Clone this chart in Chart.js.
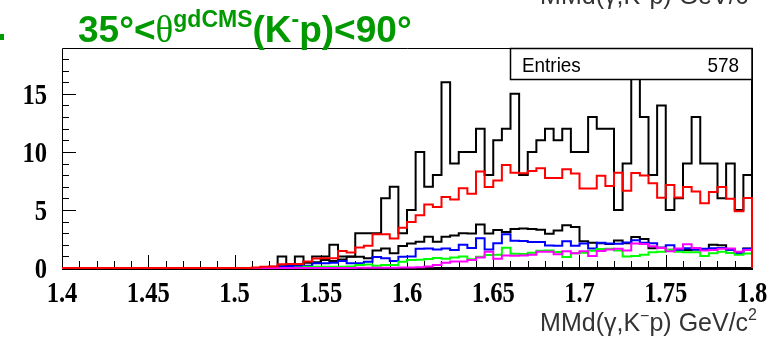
<!DOCTYPE html>
<html>
<head>
<meta charset="utf-8">
<script src="https://cdn.jsdelivr.net/npm/chart.js@4.4.1/dist/chart.umd.min.js"></script>
<style>
  html, body { margin: 0; padding: 0; background: #fff; }
  #wrap { width: 782px; height: 338px; position: relative; }
</style>
</head>
<body>
<div id="wrap"><canvas id="c" width="782" height="338"></canvas></div>
<script>
// Histogram range: 80 bins between 1.4 and 1.8 GeV/c^2
const xMin = 1.4, xMax = 1.8;
const xTickLabels = ['1.4', '1.45', '1.5', '1.55', '1.6', '1.65', '1.7', '1.75', '1.8'];
const yTickLabels = ['0', '5', '10', '15'];
const entries = 578;

// Measured counts per bin
const totalCounts = [
  0,0,0,0,0,0,0,0,0,0, 0,0,0,0,0,0,0,0,0,0,
  0,0,0,0,0,1,0,1,0,1, 1,2,1,1,3,3,3,6,7,3,
  5,10,7,8,16,9,10,10,12,8, 11,12,15,8,10,11,12,11,12,10,
  10,13,12,12,5,9,17,13,8,14, 5,6,9,13,9,9,6,9,5,8
];
// Total fit
const fitTotal = [
  0,0,0,0,0,0,0,0,0,0, 0,0,0,0,0,0,0,0,0,0,
  0,0,0.05,0.1,0.12,0.32,0.35,0.35,0.55,0.82, 0.84,0.85,1.46,1.34,1.77,1.91,2.91,2.91,2.54,3.46,
  3.97,4.54,5.48,5.26,6.11,5.89,6.88,6.4,8.31,6.97, 7.54,8.88,8.2,8.17,8.35,8.6,7.75,7.75,8.5,8.15,
  6.85,6.85,7.95,7.07,8.2,6.65,8.18,7.97,7.31,6.05, 7.15,6.08,6.97,6.6,5.57,6.54,6.97,5.97,4.88,6.03
];
// Fit components
const compBlack = [
  0,0,0,0,0,0,0,0,0,0, 0,0,0,0,0,0,0,0,0,0,
  0,0,0,0.05,0.1,0.15,0.2,0.25,0.46,0.5, 0.69,0.6,0.74,0.97,0.97,0.83,1.5,1.69,1.26,1.9,
  2.1,2.26,2.7,2.26,2.69,2.8,3.0,2.97,3.74,2.97, 3.28,3.11,3.37,3.4,3.37,3.3,2.94,3.23,3.69,3.54,
  2.3,2.17,2.14,2.07,2.37,2.14,2.66,2.49,1.7,1.74, 1.57,1.6,1.54,1.6,1.57,2.0,1.95,1.6,1.37,1.69
];
const compBlue = [
  0,0,0,0,0,0,0,0,0,0, 0,0,0,0,0,0,0,0,0,0,
  0,0,0,0,0.05,0.1,0.15,0.15,0.2,0.4, 0.4,0.45,0.6,0.4,0.4,0.54,0.95,0.85,0.6,0.97,
  1.0,1.65,1.69,1.6,1.69,1.54,2.0,1.72,2.57,1.6, 2.14,2.9,2.35,2.33,2.25,2.25,1.94,1.91,2.31,1.91,
  2.11,1.69,2.17,2.1,2.08,2.2,2.4,2.18,2.14,1.75, 1.97,1.55,1.7,1.6,1.65,1.7,1.72,1.57,1.25,1.65
];
const compGreen = [
  0,0,0,0,0,0,0,0,0,0, 0,0,0,0,0,0,0,0,0,0,
  0,0,0,0,0,0,0,0.05,0.1,0.1, 0.1,0.1,0.1,0.12,0.25,0.3,0.2,0.25,0.25,0.54,
  0.69,0.72,0.78,0.87,0.8,0.91,1.0,0.75,0.97,1.11, 1.15,1.74,1.23,1.2,1.31,1.49,1.5,1.37,0.95,1.26,
  1.31,1.49,1.63,1.65,1.5,1.0,1.03,1.15,1.35,1.4, 1.54,1.4,1.35,1.35,1.03,1.27,1.4,1.3,1.15,1.25
];
const compMagenta = [
  0,0,0,0,0,0,0,0,0,0, 0,0,0,0,0,0,0,0,0,0,
  0,0,0,0,0,0,0,0,0,0, 0,0,0,0.01,0.02,0.02,0.03,0.03,0.03,0.04,
  0.05,0.07,0.12,0.25,0.45,0.55,0.57,0.69,0.9,1.4, 0.8,1.07,1.05,1.08,1.15,1.4,1.4,1.18,1.45,1.26,
  1.45,1.03,1.46,1.6,1.65,1.5,2.1,2.07,1.87,1.73, 1.45,1.69,2.05,1.73,1.5,1.54,1.65,1.69,1.4,1.54
];

// Turn bin contents into an outline that starts and ends on the baseline
function histOutline(vals) {
  const w = (xMax - xMin) / vals.length;
  const pts = [{ x: xMin, y: 0 }];
  vals.forEach((v, i) => pts.push({ x: xMin + i * w, y: v }));
  pts.push({ x: xMax, y: vals[vals.length - 1] });
  pts.push({ x: xMax, y: 0 });
  return pts;
}

function histDataset(vals, color, order) {
  return {
    data: histOutline(vals),
    borderColor: color,
    borderWidth: 2,
    stepped: 'before',
    pointRadius: 0,
    fill: false,
    tension: 0,
    clip: 4,
    order: order
  };
}

const GREEN = '#009900';
const SANS = '"Liberation Sans", Arial, sans-serif';
const SERIF = '"Liberation Serif", "Times New Roman", serif';

// Draw a string made of pieces with their own font and vertical offset,
// optionally squeezed horizontally by sx
function richText(ctx, x, y, parts, align, sx) {
  sx = sx || 1;
  let total = 0;
  parts.forEach(p => { ctx.font = p.font; total += ctx.measureText(p.t).width; });
  ctx.save();
  ctx.translate(x, y);
  ctx.scale(sx, 1);
  let cx = align === 'right' ? -total : (align === 'center' ? -total / 2 : 0);
  ctx.textAlign = 'left';
  ctx.textBaseline = 'alphabetic';
  parts.forEach(p => {
    ctx.font = p.font;
    ctx.fillText(p.t, cx, p.dy || 0);
    cx += ctx.measureText(p.t).width;
  });
  ctx.restore();
}

const axisTitleParts = [
  { t: 'MMd(\u03B3,K', font: '25px ' + SANS },
  { t: '\u2212', font: '16px ' + SANS, dy: -10 },
  { t: 'p) GeV/c', font: '25px ' + SANS },
  { t: '2', font: '16px ' + SANS, dy: -11 }
];

const decorations = {
  id: 'decorations',
  beforeDatasetsDraw(chart) {
    const { ctx, chartArea: a, scales } = chart;
    ctx.save();
    ctx.strokeStyle = '#000';
    // x ticks pointing up into the plot
    ctx.lineWidth = 1;
    for (let k = 0; k <= 40; k++) {
      const v = xMin + k * 0.01;
      const px = Math.round(scales.x.getPixelForValue(v)) + 0.5;
      const len = (k % 5 === 0) ? 13 : 7;
      ctx.beginPath();
      ctx.moveTo(px, a.bottom);
      ctx.lineTo(px, a.bottom - len);
      ctx.stroke();
    }
    // y ticks pointing right into the plot
    for (let v = 0; v <= 18; v++) {
      const py = Math.round(scales.y.getPixelForValue(v)) + 0.5;
      const len = (v % 5 === 0) ? 14 : 7;
      ctx.beginPath();
      ctx.moveTo(a.left, py);
      ctx.lineTo(a.left + len, py);
      ctx.stroke();
    }
    // frame
    ctx.lineWidth = 1;
    ctx.beginPath();
    ctx.moveTo(a.left + 0.5, a.bottom);
    ctx.lineTo(a.left + 0.5, a.top + 0.5);
    ctx.lineTo(a.right, a.top + 0.5);
    ctx.stroke();
    ctx.lineWidth = 2;
    ctx.beginPath();
    ctx.moveTo(a.right, a.top);
    ctx.lineTo(a.right, a.bottom);
    ctx.stroke();
    ctx.lineWidth = 3;
    ctx.beginPath();
    ctx.moveTo(a.left, a.bottom + 0.5);
    ctx.lineTo(a.right + 1, a.bottom + 0.5);
    ctx.stroke();

    // tick labels, set in a narrow bold serif
    ctx.fillStyle = '#000';
    const tf = [{ font: 'bold 30px ' + SERIF }];
    scales.x.ticks.forEach(t => {
      const lbl = xTickLabels.find(s => parseFloat(s) === t.value);
      richText(ctx, scales.x.getPixelForValue(t.value), 302, [{ t: lbl, font: tf[0].font }], 'center', 0.82);
    });
    scales.y.ticks.forEach(t => {
      const lbl = yTickLabels.find(s => parseFloat(s) === t.value);
      richText(ctx, 47, scales.y.getPixelForValue(t.value) + 10, [{ t: lbl, font: tf[0].font }], 'right', 0.82);
    });
    ctx.restore();
  },
  afterDraw(chart) {
    const { ctx, chartArea: a } = chart;
    ctx.save();
    // statistics box
    ctx.fillStyle = '#fff';
    ctx.fillRect(510, a.top, a.right - 510, 31);
    ctx.strokeStyle = '#000';
    ctx.lineWidth = 1.5;
    ctx.strokeRect(510.5, a.top + 0.5, a.right - 510.5, 31);
    ctx.fillStyle = '#000';
    richText(ctx, 522, 72, [{ t: 'Entries', font: '21px ' + SANS }], 'left', 0.9);
    richText(ctx, 739, 72, [{ t: String(entries), font: '21px ' + SANS }], 'right', 0.9);

    // title
    ctx.fillStyle = GREEN;
    richText(ctx, 78, 42, [
      { t: '35\u00B0<', font: 'bold 37px ' + SANS },
      { t: '\u03B8', font: '37px ' + SERIF },
      { t: 'gdCMS', font: 'bold 23px ' + SANS, dy: -15 },
      { t: '(K', font: 'bold 37px ' + SANS },
      { t: '-', font: 'bold 23px ' + SANS, dy: -15 },
      { t: 'p)<90\u00B0', font: 'bold 37px ' + SANS }
    ]);
    ctx.fillRect(0, 34, 4, 6);

    // axis titles: this pad and the bottom of the one above
    ctx.fillStyle = '#333';
    richText(ctx, 757, 331, axisTitleParts, 'right');
    richText(ctx, 757, 4, axisTitleParts, 'right');
    ctx.restore();
  }
};

new Chart(document.getElementById('c'), {
  type: 'line',
  data: {
    datasets: [
      histDataset(totalCounts, '#000000', 6),
      histDataset(compBlack, '#000000', 5),
      histDataset(compBlue, '#0000ff', 4),
      histDataset(compGreen, '#00ff00', 3),
      histDataset(compMagenta, '#ff00ff', 2),
      histDataset(fitTotal, '#ff0000', 1)
    ]
  },
  options: {
    responsive: false,
    animation: false,
    events: [],
    layout: { padding: { top: 48, right: 30, left: 0, bottom: 0 } },
    plugins: { legend: { display: false }, tooltip: { enabled: false }, title: { display: false } },
    scales: {
      x: {
        type: 'linear',
        min: xMin,
        max: xMax,
        afterFit(s) { s.height = 70; },
        afterBuildTicks(s) { s.ticks = xTickLabels.map(t => ({ value: parseFloat(t) })); },
        ticks: { display: false },
        grid: { display: false, drawTicks: false },
        border: { display: false }
      },
      y: {
        type: 'linear',
        min: 0,
        max: 18.95,
        afterFit(s) { s.width = 62; },
        afterBuildTicks(s) { s.ticks = yTickLabels.map(t => ({ value: parseFloat(t) })); },
        ticks: { display: false },
        grid: { display: false, drawTicks: false },
        border: { display: false }
      }
    }
  },
  plugins: [decorations]
});
</script>
</body>
</html>
